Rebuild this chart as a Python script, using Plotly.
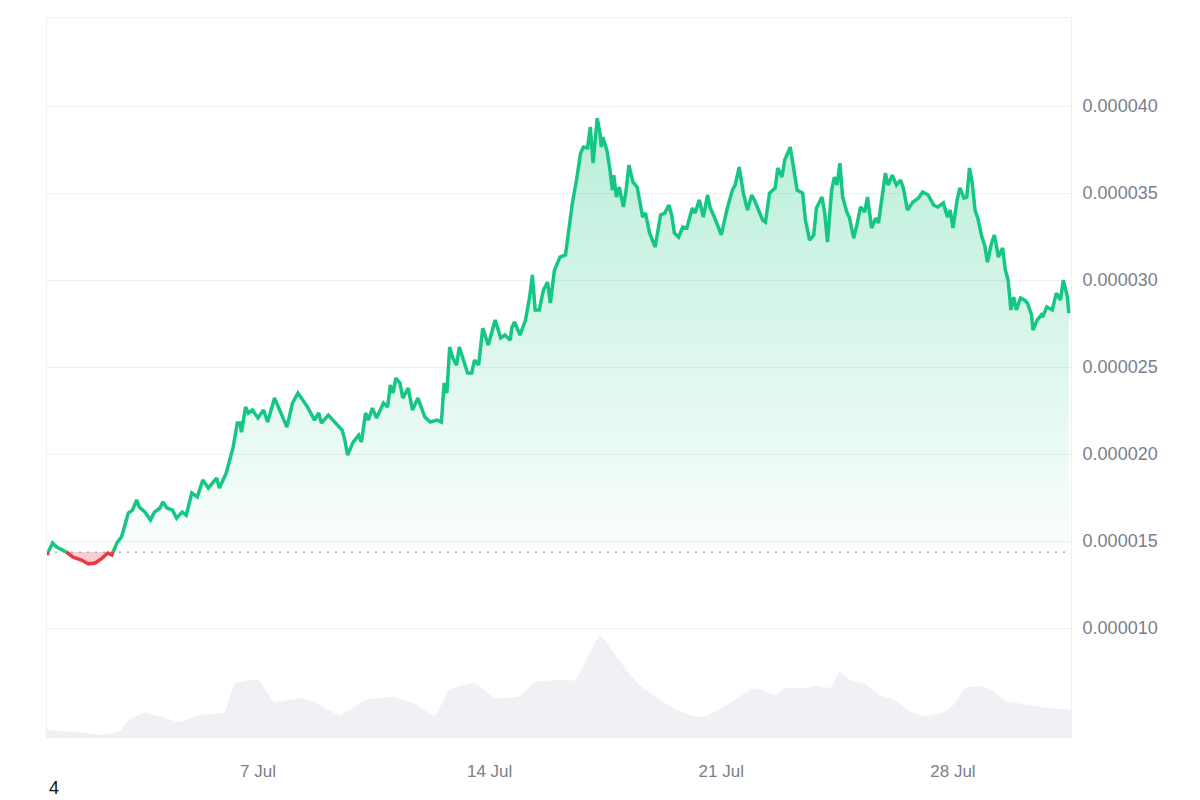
import numpy as np
import pandas as pd
import plotly.graph_objects as go

# ---------------- data ----------------
START = pd.Timestamp("2024-07-01 00:00")

# hours since 1 Jul 00:00
price_hours = [
    -9, -5, -2, 3, 6, 10, 16, 21, 26, 31,
    35, 38, 42, 45, 50, 53, 56, 58, 62, 66,
    69, 73, 75, 78, 82, 85, 89, 92, 96, 100,
    104, 108, 114, 116, 121, 126, 129, 131, 132, 135,
    137, 140, 144, 148, 151, 156, 160, 165, 169, 173,
    180, 185, 188, 190, 195, 200, 205, 207, 209, 213,
    217, 219, 222, 224, 227, 230, 235, 238, 240, 242,
    244, 247, 249, 253, 256, 260, 265, 269, 274, 277,
    279, 281, 283, 285, 288, 290, 296, 299, 301, 304,
    307, 311, 316, 320, 323, 327, 328, 330, 334, 338,
    341, 343, 345, 348, 351, 354, 356, 359, 363, 367,
    369, 372, 375, 378, 380, 383, 385, 387, 390, 392,
    393, 394, 397, 399, 401, 402, 404, 406, 409, 411,
    413, 416, 419, 421, 423, 425, 428, 432, 436, 439,
    442, 444, 446, 449, 452, 455, 459, 461, 464, 467,
    470, 472, 475, 480, 484, 488, 490, 493, 496, 499,
    502, 504, 507, 510, 512, 515, 519, 521, 524, 526,
    530, 532, 535, 539, 541, 544, 547, 549, 553, 555,
    557, 560, 562, 564, 566, 568, 571, 573, 576, 578,
    581, 584, 586, 589, 592, 594, 597, 599, 601, 604,
    607, 610, 612, 615, 619, 623, 626, 630, 634, 637,
    641, 644, 646, 648, 651, 653, 656, 658, 660, 662,
    664, 666, 669, 671, 673, 676, 678, 681, 684, 686,
    688, 690, 692, 694, 697, 700, 702, 705, 706, 709,
    712, 713, 716, 720, 723, 726, 728, 731, 732,
]

# price in units of 1e-6
price_e6 = [
    14.20, 14.89, 14.66, 14.48, 14.31, 14.08, 13.91, 13.68, 13.74, 14.02,
    14.31, 14.20, 14.94, 15.23, 16.61, 16.78, 17.36, 16.95, 16.67, 16.21,
    16.67, 16.90, 17.24, 16.90, 16.78, 16.32, 16.67, 16.49, 17.76, 17.53,
    18.51, 18.05, 18.62, 18.05, 18.91, 20.40, 21.78, 21.78, 21.26, 22.70,
    22.36, 22.53, 22.07, 22.53, 21.84, 23.22, 22.53, 21.55, 22.93, 23.51,
    22.70, 21.95, 22.36, 21.78, 22.24, 21.84, 21.38, 20.80, 19.94, 20.69,
    21.09, 20.69, 22.36, 21.95, 22.64, 22.07, 22.93, 22.70, 23.97, 23.51,
    24.37, 24.08, 23.22, 23.79, 22.53, 23.22, 22.13, 21.84, 21.95, 21.84,
    24.08, 23.51, 26.15, 25.57, 25.11, 26.15, 24.66, 24.66, 25.40, 25.11,
    27.24, 26.26, 27.70, 26.67, 26.84, 26.55, 27.24, 27.59, 26.84, 27.70,
    29.02, 30.29, 28.28, 28.28, 29.43, 29.89, 28.68, 30.57, 31.32, 31.44,
    32.70, 34.43, 35.75, 37.30, 37.64, 37.59, 38.79, 36.72, 39.31, 38.45,
    37.64, 38.22, 37.47, 36.49, 35.17, 36.03, 34.77, 35.34, 34.20, 35.17,
    36.61, 35.63, 35.34, 34.60, 33.62, 33.85, 32.70, 31.90, 33.74, 33.85,
    34.31, 33.74, 32.70, 32.47, 33.05, 32.99, 34.14, 33.85, 34.60, 33.62,
    34.89, 34.14, 33.62, 32.59, 34.02, 35.17, 35.46, 36.49, 35.00, 34.02,
    34.89, 34.60, 34.02, 33.45, 33.33, 35.00, 35.29, 36.44, 35.92, 36.90,
    37.64, 36.61, 35.17, 35.00, 33.45, 32.30, 32.59, 34.14, 34.77, 33.85,
    32.18, 35.17, 35.92, 35.46, 36.72, 34.77, 33.91, 33.56, 32.41, 33.05,
    34.20, 33.91, 34.77, 32.99, 33.56, 33.28, 35.06, 36.15, 35.46, 36.03,
    35.46, 35.75, 35.29, 34.02, 34.48, 34.71, 35.06, 34.89, 34.31, 34.20,
    34.43, 33.62, 34.02, 32.99, 34.60, 35.29, 34.71, 34.77, 36.44, 35.57,
    34.02, 33.56, 32.47, 32.01, 31.03, 32.13, 32.59, 31.32, 31.84, 30.57,
    30.00, 28.28, 29.02, 28.28, 28.97, 28.85, 28.68, 27.99, 27.13, 27.70,
    27.99, 27.87, 28.45, 28.28, 29.25, 28.85, 30.00, 29.02, 28.10,
]

baseline_e6 = 14.37

volume_hours = [
    -9, 20, 29, 44, 50, 62, 77, 87, 102, 120,
    127, 144, 156, 174, 185, 203, 222, 242, 258, 272,
    283, 301, 316, 334, 345, 363, 374, 392, 406, 414,
    423, 436, 445, 457, 467, 479, 490, 504, 519, 526,
    541, 548, 559, 566, 573, 584, 595, 606, 617, 628,
    642, 649, 657, 668, 678, 686, 704, 718, 734,
]
volume_rel = [
    7, 4, 2, 6, 17, 24, 19, 15, 22, 25,
    53, 57, 35, 39, 35, 22, 37, 40, 33, 21,
    47, 54, 39, 41, 55, 57, 57, 101, 77, 62,
    49, 37, 29, 22, 20, 28, 37, 49, 42, 49,
    49, 51, 49, 65, 57, 53, 42, 37, 25, 21,
    25, 33, 49, 51, 45, 36, 32, 29, 27,
]

ytick_e6 = [10, 15, 20, 25, 30, 35, 40]
ytick_text = ["0.000010", "0.000015", "0.000020", "0.000025",
              "0.000030", "0.000035", "0.000040"]
xtick_dates = ["2024-07-07", "2024-07-14", "2024-07-21", "2024-07-28"]
xtick_text = ["7 Jul", "14 Jul", "21 Jul", "28 Jul"]

# ---------------- preparation ----------------
GREEN = "#16c784"
RED = "#ea3943"

t = np.array(price_hours, dtype=float)
p = np.array(price_e6, dtype=float) * 1e-6
base = baseline_e6 * 1e-6

# insert exact baseline crossings so the two colours meet cleanly
T, P = [t[0]], [p[0]]
for i in range(1, len(t)):
    a, b = p[i - 1] - base, p[i] - base
    if a * b < 0:
        f = a / (a - b)
        T.append(t[i - 1] + f * (t[i] - t[i - 1]))
        P.append(base)
    T.append(t[i])
    P.append(p[i])
T = np.array(T)
P = np.array(P)
dates = START + pd.to_timedelta(T, unit="h")

green_line = [v if v >= base else None for v in P]
red_line = [v if v <= base else None for v in P]
green_fill = np.maximum(P, base)
red_fill = np.minimum(P, base)
base_arr = np.full(len(P), base)

vdates = START + pd.to_timedelta(np.array(volume_hours, dtype=float), unit="h")

fig = go.Figure()

# volume (secondary axis, bottom)
fig.add_trace(go.Scatter(
    x=vdates, y=volume_rel, yaxis="y2", mode="lines",
    line=dict(width=0, color="#eff1f5", shape="spline", smoothing=0.4),
    fill="tozeroy", fillcolor="#eff1f5", hoverinfo="skip",
))

# green gradient fill above baseline
fig.add_trace(go.Scatter(x=dates, y=base_arr, mode="lines",
                         line=dict(width=0), hoverinfo="skip"))
fig.add_trace(go.Scatter(
    x=dates, y=green_fill, mode="lines", line=dict(width=0),
    fill="tonexty",
    fillgradient=dict(
        type="vertical",
        colorscale=[[0, "rgba(22,199,132,0.02)"], [1, "rgba(22,199,132,0.30)"]],
        start=base, stop=float(P.max()),
    ),
    hoverinfo="skip",
))

# red fill below baseline
fig.add_trace(go.Scatter(x=dates, y=base_arr, mode="lines",
                         line=dict(width=0), hoverinfo="skip"))
fig.add_trace(go.Scatter(
    x=dates, y=red_fill, mode="lines", line=dict(width=0),
    fill="tonexty", fillcolor="rgba(234,57,67,0.25)", hoverinfo="skip",
))

# dotted baseline across the plot
x0 = START + pd.Timedelta(hours=-9)
x1 = START + pd.Timedelta(hours=733.6)
fig.add_trace(go.Scatter(
    x=[x0, x1], y=[base, base], mode="lines",
    line=dict(color="#9aa0a8", width=1.3, dash="2px,6px"), hoverinfo="skip",
))

# price lines
fig.add_trace(go.Scatter(x=dates, y=red_line, mode="lines",
                         line=dict(color=RED, width=3.5), connectgaps=False))
fig.add_trace(go.Scatter(x=dates, y=green_line, mode="lines",
                         line=dict(color=GREEN, width=3.5), connectgaps=False))

FRAME = "#eef0f3"
LABEL = "#7a808a"

fig.update_layout(
    width=1200, height=800,
    margin=dict(l=47, r=129, t=18, b=63),
    paper_bgcolor="white", plot_bgcolor="white",
    showlegend=False,
    font=dict(family="Liberation Sans, Arial, sans-serif", color=LABEL),
    xaxis=dict(
        range=[x0, x1], type="date",
        tickvals=pd.to_datetime(xtick_dates), ticktext=xtick_text,
        showgrid=False, zeroline=False,
        showline=True, linecolor=FRAME, linewidth=1, mirror=True,
        ticks="outside", ticklen=19, tickcolor="rgba(0,0,0,0)",
        tickfont=dict(size=17, color=LABEL),
    ),
    yaxis=dict(
        side="right",
        range=[3.74e-6, 45.06e-6],
        tickvals=[v * 1e-6 for v in ytick_e6], ticktext=ytick_text,
        showgrid=True, gridcolor=FRAME, gridwidth=1, zeroline=False,
        showline=True, linecolor=FRAME, linewidth=1, mirror=True,
        ticks="outside", ticklen=7, tickcolor="rgba(0,0,0,0)",
        tickfont=dict(size=18, color=LABEL),
    ),
    yaxis2=dict(
        overlaying="y", range=[0, max(volume_rel) * 7.12],
        visible=False, fixedrange=True,
    ),
    hovermode=False,
)

fig.add_annotation(
    text="4", xref="paper", yref="paper", x=0, y=-0.071,
    xanchor="left", yanchor="middle", showarrow=False,
    font=dict(size=18, color="#111111"),
)

fig.write_html("out.html")
